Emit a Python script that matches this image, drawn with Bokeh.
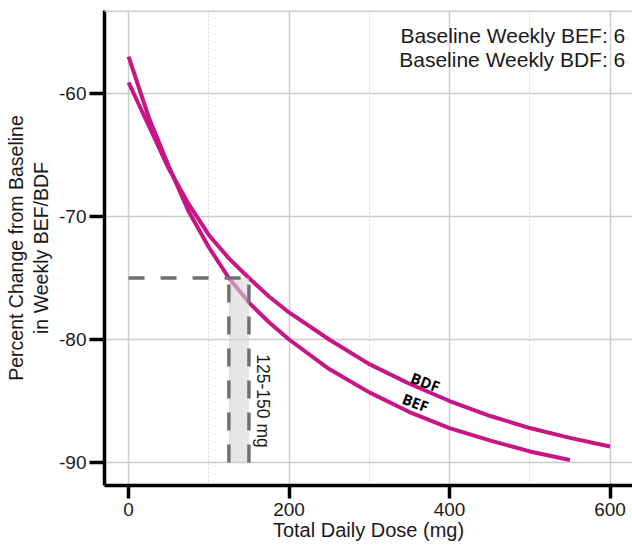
from bokeh.plotting import figure
from bokeh.models import FixedTicker, Span, Label
from bokeh.core.properties import value
from bokeh.embed import file_html
from bokeh.resources import INLINE

# ---- data ----
dose_bef = [0, 25, 50, 75, 100, 125, 150, 175, 200, 250, 300, 350, 400, 450, 500, 550]
pct_bef = [-57.0, -61.9, -65.9, -69.6, -72.5, -75.0, -77.0, -78.6, -80.0, -82.4, -84.3,
           -85.9, -87.2, -88.2, -89.1, -89.8]
dose_bdf = [0, 25, 50, 75, 100, 125, 150, 175, 200, 250, 300, 350, 400, 450, 500, 550, 600]
pct_bdf = [-59.1, -62.6, -66.1, -69.0, -71.5, -73.4, -75.0, -76.5, -77.8, -80.0, -82.0,
           -83.6, -85.0, -86.2, -87.2, -88.0, -88.7]

target_pct = -75
dose_window = [125, 150]
floor_pct = -90

x_ticks = [0, 200, 400, 600]
x_minor = [100, 300, 500]
y_ticks = [-90, -80, -70, -60]
y_tick_labels = ["-90", "-80", "-70", "-60"]

baseline_lines = ["Baseline Weekly BEF: 6", "Baseline Weekly BDF: 6"]
window_label = "125-150 mg"

# ---- figure ----
FONT = "Liberation Sans"
MAG = "#C71585"
DASH = "#707070"

p = figure(width=632, height=545, x_range=(-30, 628), y_range=(-91.87, -53.25),
           output_backend="svg", toolbar_location=None,
           min_border_left=104, min_border_right=0, min_border_top=10, min_border_bottom=60)
p.outline_line_color = None
p.background_fill_color = "white"
p.border_fill_color = "white"

# grids
p.xaxis.ticker = FixedTicker(ticks=x_ticks, minor_ticks=x_minor)
p.yaxis.ticker = FixedTicker(ticks=y_ticks, minor_ticks=[])
p.yaxis.major_label_overrides = dict(zip(y_ticks, y_tick_labels))
p.xgrid.grid_line_color = "#cccccc"
p.xgrid.grid_line_width = 1.5
p.xgrid.minor_grid_line_color = "#d4d4d4"
p.xgrid.minor_grid_line_dash = "2 2"
p.xgrid.minor_grid_line_width = 1
p.ygrid.grid_line_color = "#cccccc"
p.ygrid.grid_line_width = 1.5
p.add_layout(Span(location=-53.3, dimension="width", line_color="#cccccc", line_width=2))

# axes
for ax in (p.xaxis[0], p.yaxis[0]):
    ax.axis_line_color = "black"
    ax.axis_line_width = 3.5
    ax.major_tick_line_color = "black"
    ax.major_tick_line_width = 3.5
    ax.major_tick_in = 0
    ax.minor_tick_line_color = None
    ax.major_label_text_font = FONT
    ax.major_label_text_font_size = "19px"
    ax.major_label_text_color = "#1a1a1a"
    ax.axis_label_text_font = FONT
    ax.axis_label_text_font_size = "20px"
    ax.axis_label_text_font_style = "normal"
    ax.axis_label_text_color = "#1a1a1a"

p.xaxis.major_tick_out = 13
p.xaxis.major_label_standoff = 4
p.xaxis.axis_label = "Total Daily Dose (mg)"
p.xaxis.axis_label_standoff = 0
p.yaxis.major_tick_out = 15
p.yaxis.major_label_standoff = 3
p.yaxis.axis_label = "Percent Change from Baseline\nin Weekly BEF/BDF"
p.yaxis.axis_label_standoff = 4
p.yaxis.axis_label_text_font_size = "19.5px"
p.yaxis.axis_label_text_line_height = 1.15

# curves
p.line(dose_bdf, pct_bdf, line_color=MAG, line_width=4)
p.line(dose_bef, pct_bef, line_color=MAG, line_width=4)

# shaded window and dashed guides
p.quad(left=dose_window[0], right=dose_window[1], bottom=floor_pct, top=target_pct,
       fill_color="#d6d6d6", fill_alpha=0.6, line_color=None)
p.line([0, dose_window[1]], [target_pct, target_pct], line_color=DASH, line_width=3.5,
       line_dash="16 16")
for d in dose_window:
    p.line([d, d], [floor_pct, target_pct], line_color=DASH, line_width=3.5, line_dash="18 14")

# texts
p.add_layout(Label(x=619, y=-55.25, text=baseline_lines[0], text_align="right",
                   text_baseline="alphabetic", text_font=FONT, text_font_size="21px",
                   text_color="#1a1a1a"))
p.add_layout(Label(x=619, y=-57.25, text=baseline_lines[1], text_align="right",
                   text_baseline="alphabetic", text_font=FONT, text_font_size="21px",
                   text_color="#1a1a1a"))
p.add_layout(Label(x=167.6, y=-85.0, text=window_label, angle=-1.5708, text_align="center",
                   text_baseline="middle", text_font=FONT, text_font_size="17.5px",
                   text_color="#1a1a1a"))
p.text(x=[370, 357.6], y=[-83.45, -85.1], text=["BDF", "BEF"], angle=-0.36,
       text_align="center", text_baseline="middle", text_font=value("Open Sans"),
       text_font_style="bold", text_font_size="15px", text_color="black")

open("out.html", "w").write(file_html(p, INLINE))
